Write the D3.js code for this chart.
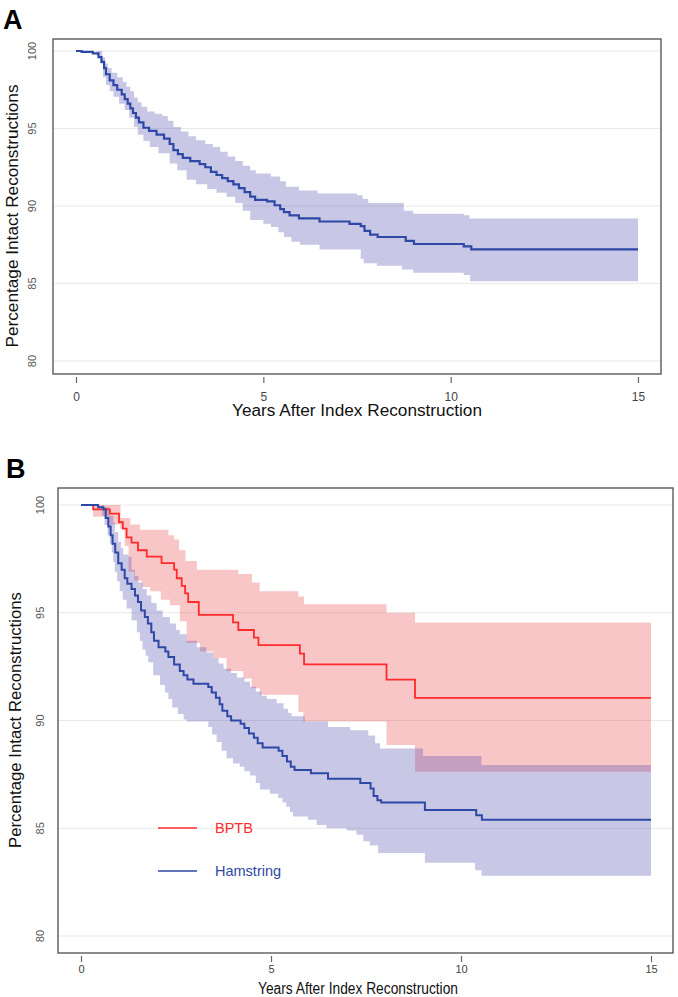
<!DOCTYPE html>
<html><head><meta charset="utf-8">
<script src="https://cdn.jsdelivr.net/npm/d3@7"></script>
<style>body{margin:0;background:#fff}svg{display:block}text{font-family:"Liberation Sans",Arial,sans-serif}</style>
</head><body>
<svg id="c" width="678" height="997"></svg>
<script>
const yTicks=[80,85,90,95,100];
const xTicks=[0,5,10,15];
const xEnd=15;
const xTitle="Years After Index Reconstruction";
const yTitle="Percentage Intact Reconstructions";
const legendLabels=["BPTB","Hamstring"];

// Panel A: all reconstructions  [year, % intact]
const aSurv=[[0,100],[0.15,99.95],[0.45,99.85],[0.6,99.6],[0.68,99.3],[0.75,98.9],[0.8,98.5],[0.9,98.1],[1.0,97.8],[1.1,97.5],[1.22,97.2],[1.3,96.9],[1.38,96.6],[1.45,96.3],[1.52,96.0],[1.6,95.7],[1.68,95.4],[1.8,95.05],[1.95,94.85],[2.15,94.6],[2.35,94.35],[2.5,94.0],[2.6,93.6],[2.72,93.35],[2.85,93.1],[3.05,92.9],[3.3,92.7],[3.45,92.5],[3.6,92.2],[3.75,92.0],[3.9,91.8],[4.05,91.6],[4.2,91.4],[4.35,91.15],[4.5,90.9],[4.65,90.6],[4.78,90.4],[5.1,90.3],[5.3,90.05],[5.45,89.8],[5.55,89.6],[5.7,89.4],[5.95,89.2],[6.5,89.0],[7.3,88.85],[7.6,88.7],[7.7,88.4],[7.85,88.15],[8.05,88.0],[8.8,87.75],[9.02,87.55],[10.35,87.4],[10.55,87.2]];
const aUpper=[[0,100],[0.7,99.6],[0.78,99.2],[0.85,98.9],[0.95,98.6],[1.1,98.3],[1.25,98.0],[1.35,97.7],[1.45,97.4],[1.55,97.0],[1.65,96.7],[1.75,96.4],[1.9,96.1],[2.1,95.95],[2.3,95.8],[2.45,95.5],[2.6,95.1],[2.8,94.8],[3.0,94.5],[3.2,94.25],[3.45,94.0],[3.65,93.8],[3.85,93.5],[4.05,93.2],[4.25,92.9],[4.45,92.6],[4.65,92.3],[4.8,92.1],[5.2,91.9],[5.45,91.6],[5.6,91.25],[5.95,91.0],[6.45,90.8],[7.5,90.7],[7.65,90.45],[7.8,90.2],[8.75,89.7],[9.0,89.5],[10.35,89.4],[10.5,89.2]];
const aLower=[[0,100],[0.55,99.7],[0.65,99.2],[0.72,98.3],[0.8,97.8],[0.9,97.4],[1.0,97.05],[1.15,96.6],[1.3,96.2],[1.42,95.7],[1.55,95.1],[1.65,94.6],[1.8,94.2],[1.97,93.8],[2.2,93.4],[2.5,92.75],[2.7,92.3],[2.95,91.7],[3.2,91.4],[3.5,91.1],[3.75,90.85],[4.02,90.6],[4.25,90.2],[4.45,89.7],[4.65,89.1],[5.0,88.85],[5.2,88.65],[5.4,88.3],[5.55,88.0],[5.75,87.7],[5.98,87.5],[6.5,87.2],[7.6,86.6],[7.68,86.3],[8.03,86.15],[8.7,85.9],[9.0,85.7],[10.35,85.55],[10.52,85.15]];

// Panel B: BPTB
const bptbSurv=[[0,100],[0.32,99.8],[0.76,99.6],[1.0,99.2],[1.1,98.9],[1.2,98.5],[1.33,98.25],[1.5,97.9],[1.73,97.6],[2.12,97.3],[2.45,97.0],[2.52,96.6],[2.65,96.25],[2.74,95.9],[2.82,95.5],[3.1,94.9],[4.0,94.55],[4.14,94.2],[4.55,93.85],[4.67,93.5],[5.76,93.1],[5.87,92.6],[8.04,91.9],[8.79,91.05]];
const bptbUpper=[[0,100],[1.04,99.4],[1.3,99.1],[1.55,98.85],[2.3,98.6],[2.45,98.4],[2.58,97.9],[2.75,97.4],[3.05,97.0],[4.14,96.8],[4.5,96.4],[4.7,96.0],[5.72,95.75],[5.87,95.4],[8.04,95.0],[8.79,94.55]];
const bptbLower=[[0,100],[0.32,99.45],[0.76,99.1],[1.03,98.9],[1.15,98.1],[1.25,96.9],[1.4,96.5],[1.6,96.2],[1.82,96.0],[2.1,95.6],[2.34,95.35],[2.6,94.6],[2.78,93.6],[3.13,93.2],[3.48,92.9],[3.83,92.3],[4.27,91.95],[4.49,91.5],[4.71,91.2],[5.72,90.4],[5.85,89.95],[8.04,88.86],[8.79,87.62]];

// Panel B: Hamstring
const hamSurv=[[0,100],[0.45,99.9],[0.59,99.8],[0.65,99.4],[0.72,99.0],[0.78,98.6],[0.83,98.2],[0.9,97.8],[0.98,97.3],[1.07,97.0],[1.15,96.6],[1.22,96.35],[1.33,96.1],[1.42,95.8],[1.5,95.5],[1.58,95.1],[1.68,94.8],[1.76,94.5],[1.85,94.1],[1.92,93.7],[2.04,93.4],[2.22,93.2],[2.3,92.95],[2.45,92.6],[2.6,92.3],[2.7,92.1],[2.8,91.9],[2.96,91.7],[3.35,91.55],[3.44,91.3],[3.55,91.05],[3.65,90.75],[3.72,90.45],[3.85,90.2],[3.95,90.0],[4.2,89.85],[4.3,89.65],[4.42,89.4],[4.55,89.2],[4.65,88.95],[4.78,88.75],[5.2,88.6],[5.3,88.35],[5.42,88.1],[5.52,87.85],[5.62,87.7],[6.05,87.55],[6.5,87.3],[7.35,87.1],[7.62,86.85],[7.7,86.5],[7.8,86.3],[7.9,86.2],[9.05,85.85],[10.4,85.6],[10.55,85.4]];
const hamUpper=[[0,100],[0.6,99.9],[0.75,99.5],[0.85,99.2],[0.89,98.75],[0.98,98.3],[1.05,98.0],[1.11,97.7],[1.25,97.6],[1.33,97.0],[1.42,96.7],[1.51,96.4],[1.62,96.1],[1.73,95.8],[1.85,95.45],[1.99,95.1],[2.15,94.8],[2.34,94.5],[2.5,94.2],[2.6,94.0],[2.78,93.7],[3.05,93.4],[3.3,93.15],[3.48,92.9],[3.62,92.65],[3.75,92.4],[3.95,92.2],[4.1,92.0],[4.3,91.8],[4.45,91.57],[4.6,91.35],[4.75,91.15],[4.89,91.0],[5.15,90.8],[5.33,90.55],[5.45,90.35],[5.54,90.2],[5.89,89.95],[6.5,89.7],[7.08,89.55],[7.56,89.3],[7.74,88.95],[7.87,88.7],[9.0,88.35],[10.54,87.93]];
const hamLower=[[0,100],[0.55,99.5],[0.62,99.07],[0.7,98.6],[0.76,98.2],[0.81,97.8],[0.85,97.35],[0.89,96.9],[0.95,96.45],[1.02,96.0],[1.1,95.6],[1.2,95.2],[1.33,94.65],[1.47,94.1],[1.55,93.7],[1.62,93.3],[1.7,93.0],[1.77,92.7],[1.9,92.1],[2.08,91.65],[2.21,91.3],[2.3,91.0],[2.4,90.6],[2.55,90.3],[2.7,90.05],[2.78,89.95],[3.35,89.7],[3.45,89.35],[3.57,89.0],[3.7,88.6],[3.83,88.25],[4.0,88.0],[4.18,87.85],[4.3,87.65],[4.45,87.45],[4.6,87.1],[4.71,86.8],[4.97,86.6],[5.19,86.4],[5.3,86.2],[5.4,86.0],[5.5,85.75],[5.58,85.55],[5.97,85.4],[6.2,85.15],[6.46,85.0],[6.99,84.9],[7.25,84.7],[7.43,84.4],[7.6,84.2],[7.82,83.85],[9.05,83.4],[10.37,83.05],[10.54,82.8]];

const BLUE="#2e48a6", RED="#ff2a2a";
const BLUE_BAND="rgba(75,68,172,0.3)", RED_BAND="rgba(235,65,72,0.3)";

function stepVal(arr,t){let v=arr[0][1];for(const [tt,vv] of arr){if(tt<=t)v=vv;else break;}return v;}
function bandData(up,lo){
  const ts=Array.from(new Set([...up.map(d=>d[0]),...lo.map(d=>d[0]),xEnd])).sort((a,b)=>a-b);
  return ts.map(t=>({t,hi:stepVal(up,t),lo:stepVal(lo,t)}));
}

const svg=d3.select("#c");

function drawPanel(o){
  const g=svg.append("g");
  const [L,T,R,B]=o.box;
  const x=d3.scaleLinear().domain([0,xEnd]).range(o.xr);
  const y=d3.scaleLinear().domain([80,100]).range(o.yr);
  g.selectAll("line.grid").data(yTicks).join("line").attr("class","grid")
    .attr("x1",L).attr("x2",R).attr("y1",d=>y(d)).attr("y2",d=>y(d))
    .attr("stroke","#e9e9e9").attr("stroke-width",1.1);
  o.series.forEach(s=>{
    g.append("path").datum(bandData(s.upper,s.lower))
      .attr("d",d3.area().curve(d3.curveStepAfter).x(d=>x(d.t)).y0(d=>y(d.lo)).y1(d=>y(d.hi)))
      .attr("fill",s.band);
  });
  o.series.forEach(s=>{
    const pts=s.surv.concat([[xEnd,s.surv[s.surv.length-1][1]]]);
    g.append("path").datum(pts)
      .attr("d",d3.line().curve(d3.curveStepAfter).x(d=>x(d[0])).y(d=>y(d[1])))
      .attr("fill","none").attr("stroke",s.color).attr("stroke-width",s.w);
  });
  g.append("rect").attr("x",L).attr("y",T).attr("width",R-L).attr("height",B-T)
    .attr("fill","none").attr("stroke","#5a5a5a").attr("stroke-width",1.4);
  // x axis
  const ax=g.append("g").attr("transform",`translate(0,${B+3})`)
    .call(d3.axisBottom(x).tickValues(xTicks).tickSize(6).tickPadding(o.xpad).tickFormat(d3.format("d")));
  ax.select(".domain").remove();
  ax.selectAll(".tick line").attr("stroke","#666").attr("stroke-width",1.2);
  ax.selectAll(".tick text").attr("fill","#444").style("font-size",o.xfs+"px")
    .style("font-family",'"Liberation Sans",Arial,sans-serif');
  // y tick labels (rotated)
  g.selectAll("text.yt").data(yTicks).join("text").attr("class","yt")
    .attr("transform",d=>`translate(${o.ylx},${y(d)}) rotate(-90)`)
    .attr("text-anchor","middle").attr("fill","#555").style("font-size","11px").text(d=>d);
  // titles
  g.append("text").attr("x",o.xtx).attr("y",o.xty).attr("text-anchor","middle")
    .attr("fill","#111").style("font-size","16px")
    .attr("textLength",o.xtl).attr("lengthAdjust","spacingAndGlyphs").text(xTitle);
  g.append("text").attr("transform",`translate(${o.ytx},${o.yty}) rotate(-90)`).attr("text-anchor","middle")
    .attr("fill","#111").style("font-size","17px")
    .attr("textLength",o.ytl).attr("lengthAdjust","spacingAndGlyphs").text(yTitle);
  g.append("text").attr("x",o.lab[1]).attr("y",o.lab[2]).attr("fill","#000")
    .style("font-size","27px").style("font-weight","bold").text(o.lab[0]);
  return {g,x,y};
}

drawPanel({box:[53,39,661,374],xr:[76,638],yr:[361,51],xpad:9,xfs:12,ylx:36,
  xtx:357,xty:416,xtl:250,ytx:18,yty:216,ytl:263,lab:["A",3,29],
  series:[{surv:aSurv,upper:aUpper,lower:aLower,color:BLUE,band:BLUE_BAND,w:2.2}]});

const pB=drawPanel({box:[58,488,673,953],xr:[81,651],yr:[936,505],xpad:3,xfs:11,ylx:44,
  xtx:358,xty:994,xtl:200,ytx:21,yty:720,ytl:256,lab:["B",6,478],
  series:[{surv:bptbSurv,upper:bptbUpper,lower:bptbLower,color:RED,band:RED_BAND,w:1.8},
          {surv:hamSurv,upper:hamUpper,lower:hamLower,color:BLUE,band:BLUE_BAND,w:2}]});

// legend
const legColors=[RED,BLUE];
const legY=[828,871];
legendLabels.forEach((lbl,i)=>{
  pB.g.append("line").attr("x1",158).attr("x2",197).attr("y1",legY[i]).attr("y2",legY[i])
    .attr("stroke",legColors[i]).attr("stroke-width",1.6);
  pB.g.append("text").attr("x",215).attr("y",legY[i]+5).attr("fill",legColors[i])
    .style("font-size","14.5px").text(lbl);
});
</script>
</body></html>
